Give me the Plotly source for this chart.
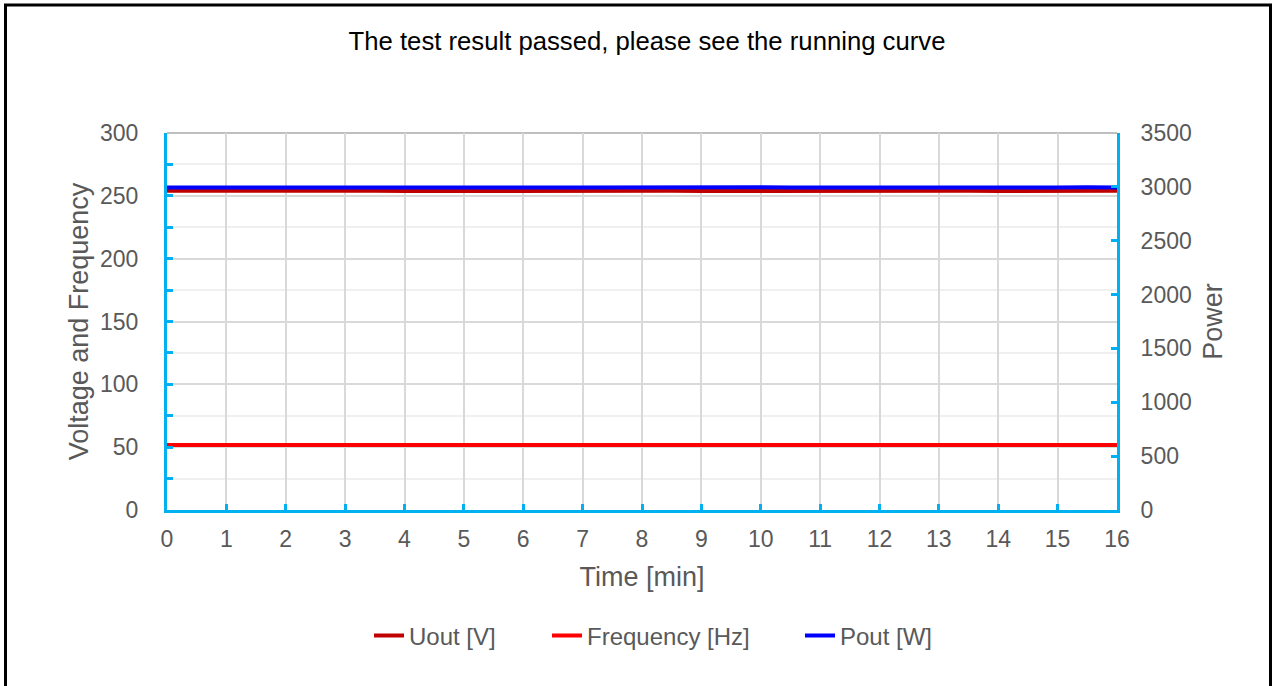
import plotly.graph_objects as go

# ---- data ----
time_min = [0, 0.5, 1, 1.5, 2, 2.5, 3, 3.5, 4, 4.5, 5, 5.5, 6, 6.5, 7, 7.5, 8,
            8.5, 9, 9.5, 10, 10.5, 11, 11.5, 12, 12.5, 13, 13.5, 14, 14.5, 15, 15.5, 16]
uout_v = [254.0, 254.1, 254.0, 253.9, 254.0, 254.1, 254.0, 254.0, 253.9, 254.0, 254.1,
          254.0, 254.0, 253.9, 254.0, 254.1, 254.0, 254.0, 253.9, 254.0, 254.1, 254.0,
          254.0, 253.9, 254.0, 254.1, 254.0, 254.0, 253.9, 254.0, 254.1, 254.0, 254.0]
freq_hz = [51.8, 51.8, 51.8, 51.8, 51.8, 51.8, 51.8, 51.8, 51.8, 51.8, 51.8,
           51.8, 51.8, 51.8, 51.8, 51.8, 51.8, 51.8, 51.8, 51.8, 51.8, 51.8,
           51.8, 51.8, 51.8, 51.8, 51.8, 51.8, 51.8, 51.8, 51.8, 51.8, 51.8]
pout_w = [2995, 2996, 2994, 2995, 2997, 2995, 2994, 2996, 2995, 2994, 2996,
          2995, 2997, 2995, 2994, 2996, 2995, 2994, 2996, 2995, 2997, 2995,
          2994, 2996, 2995, 2994, 2996, 2995, 2997, 2995, 2994, 2996, 2995]

x_ticks = list(range(0, 17))
y_left_ticks = [0, 50, 100, 150, 200, 250, 300]
y_right_ticks = [0, 500, 1000, 1500, 2000, 2500, 3000, 3500]

title_text = "The test result passed, please see the running curve"

W, H = 1274, 686
L, R, T, B = 167, 1117, 133, 510
FONT = "Liberation Sans, Arial, sans-serif"
CYAN = "#00B0F0"
TXT = "#595959"
TICK_SIZE = 23
AXT_SIZE = 27
LEG_SIZE = 24
LEG_Y = 1 - 636 / H

fig = go.Figure()
fig.add_trace(go.Scatter(x=time_min, y=uout_v, name="Uout [V]", mode="lines",
                         line=dict(color="#C00000", width=4), yaxis="y", legend="legend"))
fig.add_trace(go.Scatter(x=time_min, y=freq_hz, name="Frequency [Hz]", mode="lines",
                         line=dict(color="#FF0000", width=4), yaxis="y", legend="legend2"))
fig.add_trace(go.Scatter(x=time_min, y=pout_w, name="Pout [W]", mode="lines",
                         line=dict(color="#0000FF", width=4), yaxis="y2", legend="legend3"))


def leg(x_px):
    return dict(orientation="h", x=x_px / W, xanchor="left", y=LEG_Y, yanchor="middle",
                font=dict(size=LEG_SIZE, color=TXT), bgcolor="rgba(0,0,0,0)", borderwidth=0)


fig.update_layout(
    width=W, height=H,
    margin=dict(l=0, r=0, t=0, b=0, autoexpand=False),
    paper_bgcolor="white", plot_bgcolor="white",
    font=dict(family=FONT, color=TXT, size=TICK_SIZE),
    title=dict(text=title_text, x=647 / W, xanchor="center", y=1 - 41 / H, yanchor="middle",
               font=dict(family=FONT, size=25.7, color="black")),
    xaxis=dict(
        domain=[L / W, R / W], range=[0, 16], tickvals=x_ticks, automargin=False,
        showgrid=True, gridcolor="#D9D9D9", gridwidth=2,
        showline=True, linecolor=CYAN, linewidth=3,
        ticks="inside", ticklen=6, tickwidth=3, tickcolor=CYAN,
        tickfont=dict(size=TICK_SIZE, color=TXT), ticklabelstandoff=6,
        zeroline=False,
        title=dict(text="Time [min]", font=dict(size=AXT_SIZE, color=TXT), standoff=17),
    ),
    yaxis=dict(
        domain=[1 - B / H, 1 - T / H], range=[0, 300], tickvals=y_left_ticks, automargin=False,
        showgrid=True, gridcolor="#D9D9D9", gridwidth=2,
        minor=dict(dtick=25, showgrid=True, gridcolor="#F0F0F0", gridwidth=2,
                   ticks="inside", ticklen=6, tickwidth=3, tickcolor=CYAN),
        showline=True, linecolor=CYAN, linewidth=3,
        ticks="inside", ticklen=6, tickwidth=3, tickcolor=CYAN,
        tickfont=dict(size=TICK_SIZE, color=TXT), ticklabelstandoff=21,
        zeroline=False,
        title=dict(text="Voltage and Frequency", font=dict(size=AXT_SIZE, color=TXT), standoff=4),
    ),
    yaxis2=dict(
        overlaying="y", side="right", range=[0, 3500], tickvals=y_right_ticks, automargin=False,
        showgrid=False,
        showline=True, linecolor=CYAN, linewidth=3,
        ticks="inside", ticklen=6, tickwidth=3, tickcolor=CYAN,
        tickfont=dict(size=TICK_SIZE, color=TXT), ticklabelstandoff=16,
        zeroline=False,
        title=dict(text="Power", font=dict(size=AXT_SIZE, color=TXT), standoff=13),
    ),
    legend=leg(369),
    legend2=leg(547),
    legend3=leg(800),
    showlegend=True,
)

# top line of plot area (slightly darker grid)
fig.add_shape(type="line", xref="paper", yref="paper", x0=L / W, x1=R / W,
              y0=1 - T / H, y1=1 - T / H, line=dict(color="#BFBFBF", width=2), layer="below")

# outer chart border (top, left, right; bottom lies outside the view)
bx0, bx1 = 5.5 / W, 1270.5 / W
by1 = 1 - 5 / H
fig.add_shape(type="path", xref="paper", yref="paper",
              path=f"M {bx0} -0.05 L {bx0} {by1} L {bx1} {by1} L {bx1} -0.05",
              line=dict(color="black", width=3))

fig.write_html("out.html", config={"displayModeBar": False},
               post_script="document.body.style.margin='0';document.body.style.overflow='hidden';")
